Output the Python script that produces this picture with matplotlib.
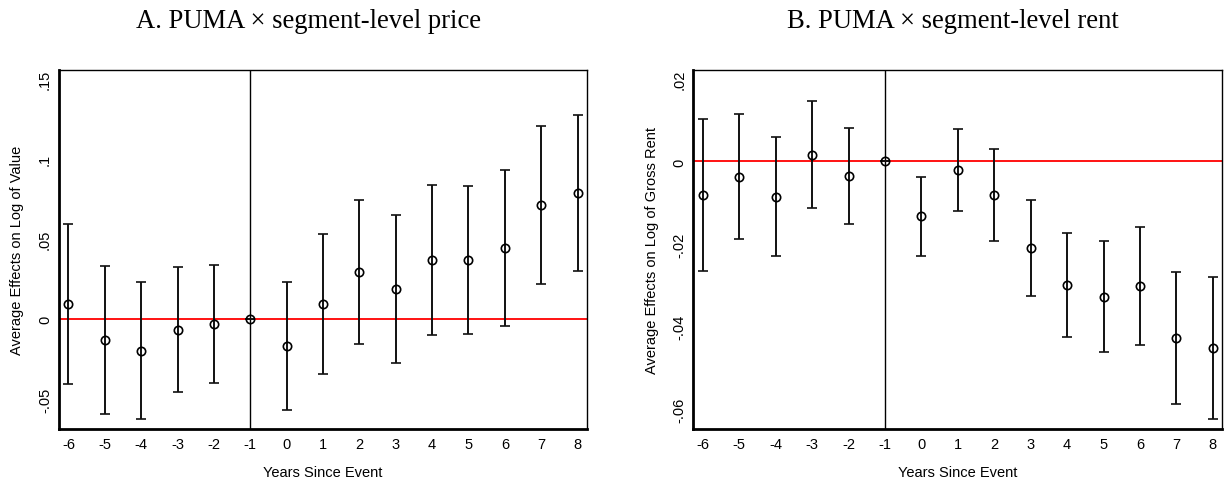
import matplotlib.pyplot as plt
import numpy as np

years = [-6, -5, -4, -3, -2, -1, 0, 1, 2, 3, 4, 5, 6, 7, 8]

# panel A: log of value
price_est = [0.0094, -0.0129, -0.0200, -0.0067, -0.0033, 0.0, -0.0169, 0.0094,
             0.0296, 0.0188, 0.0367, 0.0367, 0.0444, 0.0713, 0.0788]
price_hi = [0.0594, 0.0333, 0.0229, 0.0325, 0.0338, 0.0, 0.0231, 0.0533,
            0.0742, 0.0648, 0.0835, 0.0831, 0.0931, 0.1208, 0.1277]
price_lo = [-0.0406, -0.0594, -0.0625, -0.0458, -0.0400, 0.0, -0.0567, -0.0346,
            -0.0156, -0.0273, -0.0102, -0.0096, -0.0044, 0.0217, 0.0298]

# panel B: log of gross rent
rent_est = [-0.0081, -0.0037, -0.0085, 0.0016, -0.0036, 0.0, -0.0133, -0.0020,
            -0.0082, -0.0209, -0.0299, -0.0327, -0.0301, -0.0427, -0.0451]
rent_hi = [0.0102, 0.0116, 0.0059, 0.0146, 0.0081, 0.0, -0.0037, 0.0078,
           0.0029, -0.0094, -0.0173, -0.0192, -0.0158, -0.0267, -0.0279]
rent_lo = [-0.0264, -0.0188, -0.0228, -0.0113, -0.0150, 0.0, -0.0228, -0.0120,
           -0.0192, -0.0326, -0.0425, -0.0461, -0.0445, -0.0586, -0.0624]

plt.rcParams['font.family'] = ['Liberation Sans', 'DejaVu Sans']
plt.rcParams['axes.unicode_minus'] = False

fig = plt.figure(figsize=(12.25, 4.85), dpi=100)
axA = fig.add_axes([0.0482, 0.1134, 0.431, 0.740])
axB = fig.add_axes([0.566, 0.1134, 0.4318, 0.740])


def panel(ax, est, lo, hi, ylim, yticks, yticklabels, ylabel, title, tx):
    est = np.array(est)
    yerr = [est - np.array(lo), np.array(hi) - est]
    ax.axvline(-1, color='black', lw=1, zorder=1)
    ax.axhline(0, color='red', lw=1.3, zorder=2)
    ax.errorbar(years, est, yerr=yerr, fmt='o', mfc='none', mec='black',
                ecolor='#111111', ms=6, mew=1.2, elinewidth=1.4, capsize=3.5,
                capthick=1.4, zorder=3)
    ax.set_xlim(-6.26, 8.26)
    ax.set_ylim(*ylim)
    ax.set_xticks(years)
    ax.set_yticks(yticks)
    ax.set_yticklabels(yticklabels, rotation=90, va='center')
    ax.tick_params(length=0, labelsize=10.5)
    ax.tick_params(axis='x', pad=6)
    ax.tick_params(axis='y', pad=5)
    ax.set_xlabel('Years Since Event', fontsize=10.5, labelpad=10)
    ax.set_ylabel(ylabel, fontsize=10.5, labelpad=10)
    for s in ['left', 'bottom']:
        ax.spines[s].set_linewidth(2)
    for s in ['top', 'right']:
        ax.spines[s].set_linewidth(1)
    fig.text(tx, 0.955, title, family=['Liberation Serif', 'DejaVu Serif'],
             fontsize=19.2, ha='center', va='center')


panel(axA, price_est, price_lo, price_hi, (-0.0688, 0.1556),
      [-0.05, 0, 0.05, 0.1, 0.15], ['-.05', '0', '.05', '.1', '.15'],
      'Average Effects on Log of Value', 'A. PUMA \u00d7 segment-level price',
      308 / 1225)
panel(axB, rent_est, rent_lo, rent_hi, (-0.0647, 0.0221),
      [-0.06, -0.04, -0.02, 0, 0.02], ['-.06', '-.04', '-.02', '0', '.02'],
      'Average Effects on Log of Gross Rent', 'B. PUMA \u00d7 segment-level rent',
      953 / 1225)

fig.savefig('out.png', dpi=100)
